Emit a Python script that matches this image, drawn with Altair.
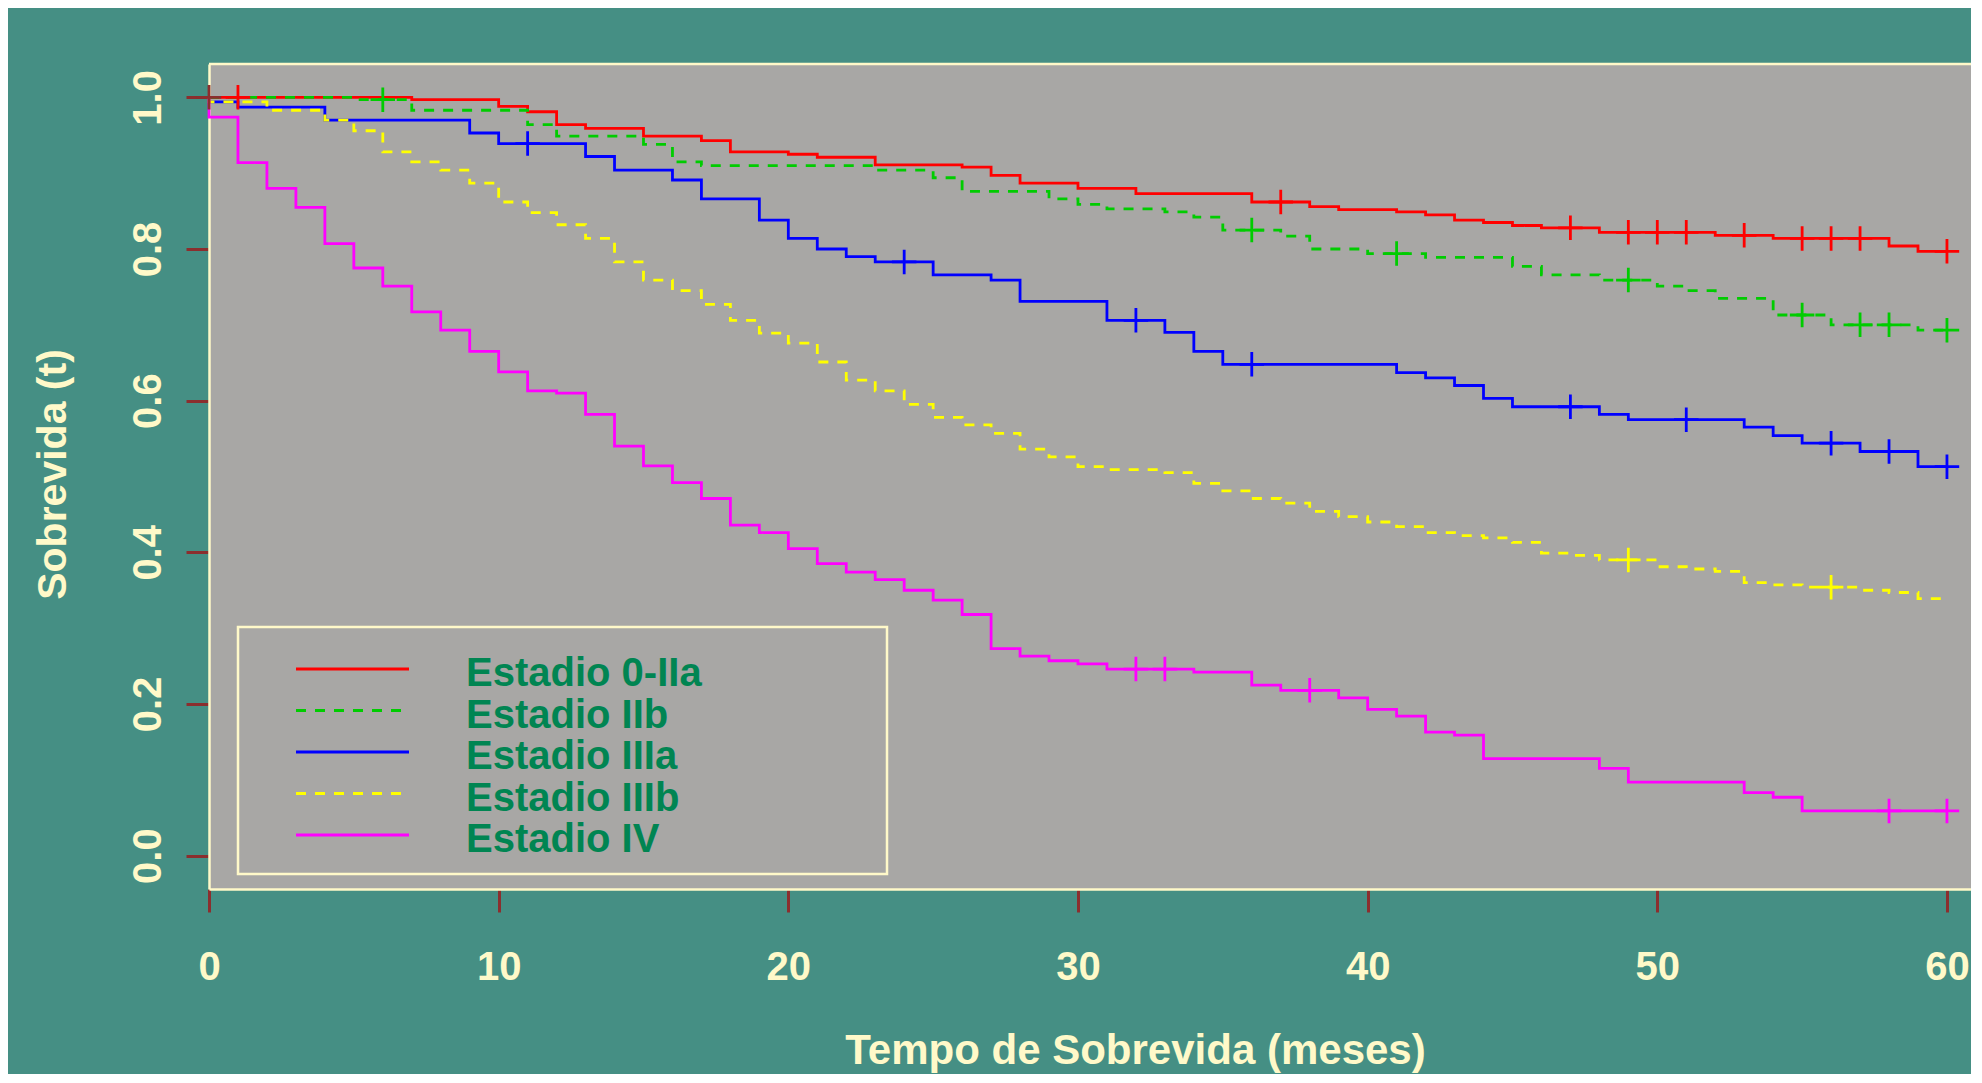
import altair as alt
import pandas as pd

# ---------------- data ----------------
nomes = ["Estadio 0-IIa", "Estadio IIb", "Estadio IIIa", "Estadio IIIb", "Estadio IV"]
cores = ["#FF0000", "#00CC00", "#0000FF", "#FFFF00", "#FF00FF"]
tracos = [[1, 0], [10, 9], [1, 0], [10, 9], [1, 0]]

tempo_0_IIa = [0, 7, 10, 11, 12, 13, 15, 17, 18, 20, 21, 23, 26, 27, 28, 30, 32, 36, 38, 39,
               41, 42, 43, 44, 45, 46, 48, 52, 54, 58, 59, 60]
sobrev_0_IIa = [1.000, 0.997, 0.988, 0.981, 0.964, 0.959, 0.949, 0.943, 0.928, 0.925,
                0.921, 0.911, 0.908, 0.897, 0.887, 0.880, 0.873, 0.862, 0.856, 0.852,
                0.849, 0.845, 0.838, 0.835, 0.831, 0.828, 0.822, 0.818, 0.814, 0.804,
                0.797, 0.797]
censura_0_IIa = [1, 37, 47, 49, 50, 51, 53, 55, 56, 57, 60]

tempo_IIb = [0, 5, 7, 11, 12, 15, 16, 17, 23, 25, 26, 29, 30, 31, 33, 34, 35, 37, 38, 40,
             42, 45, 46, 48, 50, 51, 52, 54, 56, 59, 60]
sobrev_IIb = [1.000, 0.997, 0.983, 0.964, 0.949, 0.938, 0.915, 0.910, 0.904, 0.894,
              0.876, 0.866, 0.859, 0.853, 0.849, 0.842, 0.825, 0.817, 0.800, 0.794,
              0.789, 0.777, 0.766, 0.759, 0.751, 0.745, 0.735, 0.713, 0.700, 0.693, 0.693]
censura_IIb = [6, 36, 41, 49, 55, 57, 58, 60]

tempo_IIIa = [0, 0, 1, 4, 9, 10, 13, 14, 16, 17, 19, 20, 21, 22, 23, 25, 27, 28, 31, 33,
              34, 35, 41, 42, 43, 44, 45, 48, 49, 53, 54, 55, 57, 59, 60]
sobrev_IIIa = [1.000, 0.994, 0.987, 0.970, 0.953, 0.939, 0.922, 0.904, 0.891, 0.866,
               0.838, 0.814, 0.800, 0.790, 0.783, 0.766, 0.759, 0.731, 0.706, 0.690,
               0.665, 0.648, 0.637, 0.630, 0.620, 0.603, 0.592, 0.582, 0.575, 0.565,
               0.554, 0.544, 0.533, 0.513, 0.513]
censura_IIIa = [11, 24, 32, 36, 47, 51, 56, 58, 60]

tempo_IIIb = [0, 0, 2, 4, 5, 6, 7, 8, 9, 10, 11, 12, 13, 14, 15, 16, 17, 18, 19, 20,
              21, 22, 23, 24, 25, 26, 27, 28, 29, 30, 31, 33, 34, 35, 36, 37, 38, 39, 40, 41,
              42, 43, 44, 45, 46, 47, 48, 50, 51, 52, 53, 54, 55, 57, 58, 59, 60]
sobrev_IIIb = [1.000, 0.994, 0.983, 0.970, 0.956, 0.928, 0.915, 0.904, 0.887, 0.862,
               0.848, 0.832, 0.814, 0.783, 0.759, 0.745, 0.727, 0.706, 0.689, 0.676,
               0.651, 0.627, 0.613, 0.595, 0.578, 0.568, 0.557, 0.536, 0.526, 0.513,
               0.509, 0.505, 0.491, 0.481, 0.471, 0.465, 0.454, 0.447, 0.440, 0.434,
               0.426, 0.422, 0.419, 0.413, 0.399, 0.396, 0.390, 0.381, 0.378, 0.375,
               0.360, 0.357, 0.354, 0.350, 0.347, 0.339, 0.339]
censura_IIIb = [49, 56]

tempo_IV = [0, 0, 1, 2, 3, 4, 5, 6, 7, 8, 9, 10, 11, 12, 13, 14, 15, 16, 17, 18,
            19, 20, 21, 22, 23, 24, 25, 26, 27, 28, 29, 30, 31, 34, 36, 37, 39, 40, 41, 42,
            43, 44, 48, 49, 53, 54, 55, 60]
sobrev_IV = [1.000, 0.974, 0.914, 0.880, 0.855, 0.807, 0.775, 0.751, 0.717, 0.693,
             0.665, 0.638, 0.613, 0.610, 0.582, 0.540, 0.514, 0.492, 0.471, 0.436,
             0.426, 0.405, 0.385, 0.374, 0.364, 0.350, 0.337, 0.318, 0.273, 0.263,
             0.257, 0.253, 0.246, 0.242, 0.225, 0.218, 0.208, 0.193, 0.184, 0.163,
             0.159, 0.128, 0.115, 0.097, 0.083, 0.077, 0.059, 0.059]
censura_IV = [32, 33, 38, 58, 60]

marca_origem_tempo = [0]
marca_origem_sobrev = [1.0]

ticks_x = [0, 10, 20, 30, 40, 50, 60]
ticks_y = [0.0, 0.2, 0.4, 0.6, 0.8, 1.0]

# ---------------- styling ----------------
FUNDO = "#458F84"
PAINEL = "#A8A7A5"
CREME = "#FFF9C9"
TICK = "#8B2E2E"
VERDE_TXT = "#008552"
FONTE = "Liberation Sans"
LW = 2.8

series = [
    (nomes[0], tempo_0_IIa, sobrev_0_IIa, censura_0_IIa),
    (nomes[1], tempo_IIb, sobrev_IIb, censura_IIb),
    (nomes[2], tempo_IIIa, sobrev_IIIa, censura_IIIa),
    (nomes[3], tempo_IIIb, sobrev_IIIb, censura_IIIb),
    (nomes[4], tempo_IV, sobrev_IV, censura_IV),
]


def valor_em(tempos, valores, t):
    v = valores[0]
    for tt, vv in zip(tempos, valores):
        if tt <= t:
            v = vv
    return v


linhas = []
cens = []
for nome, tempos, valores, censuras in series:
    for i, (t, v) in enumerate(zip(tempos, valores)):
        linhas.append({"estadio": nome, "tempo": t, "sobrevida": v, "ordem": i})
    for t in censuras:
        cens.append({"estadio": nome, "tempo": t, "sobrevida": valor_em(tempos, valores, t)})

df_linhas = pd.DataFrame(linhas)
df_cens = pd.DataFrame(cens)
df_origem = pd.DataFrame({"tempo": marca_origem_tempo, "sobrevida": marca_origem_sobrev})
df_leg = pd.DataFrame({"estadio": nomes, "posicao": list(range(len(nomes)))})
df_um = pd.DataFrame({"k": [0]})

W = 1762
H = 825
XMAX = 60.83
YMIN, YMAX = -0.044, 1.044

x_scale = alt.Scale(domain=[0, XMAX], nice=False, zero=False)
y_scale = alt.Scale(domain=[YMIN, YMAX], nice=False, zero=False)

x_axis = alt.Axis(
    values=ticks_x, format="d", grid=False, labelFlush=False, labelOverlap=False,
    domainColor=CREME, domainWidth=2.5,
    tickColor=TICK, tickWidth=3, tickSize=23,
    labelFont=FONTE, labelFontSize=40, labelFontWeight="bold", labelColor=CREME,
    labelBaseline="alphabetic", labelPadding=67,
    title="Tempo de Sobrevida (meses)", titleFont=FONTE, titleFontSize=42,
    titleFontWeight="bold", titleColor=CREME, titleX=926, titleY=174,
    titleAlign="center", titleBaseline="alphabetic",
)
y_axis = alt.Axis(
    values=ticks_y, format=".1f", grid=False, labelFlush=False, labelOverlap=False,
    domainColor=CREME, domainWidth=2.5,
    tickColor=TICK, tickWidth=3, tickSize=23,
    labelFont=FONTE, labelFontSize=40, labelFontWeight="bold", labelColor=CREME,
    labelAngle=270, labelAlign="center", labelBaseline="alphabetic", labelPadding=26,
    title="Sobrevida (t)", titleFont=FONTE, titleFontSize=41, titleFontWeight="bold",
    titleColor=CREME, titleAngle=270, titleX=-144, titleY=410,
    titleAlign="center", titleBaseline="alphabetic",
)

X = alt.X("tempo:Q", scale=x_scale, axis=x_axis)
Y = alt.Y("sobrevida:Q", scale=y_scale, axis=y_axis)

cor = alt.Color("estadio:N", scale=alt.Scale(domain=nomes, range=cores), legend=None)
traco = alt.StrokeDash("estadio:N", scale=alt.Scale(domain=nomes, range=tracos), legend=None)

curvas = alt.Chart(df_linhas).mark_line(interpolate="step-after", strokeWidth=LW).encode(
    x=X, y=Y, color=cor, strokeDash=traco, order=alt.Order("ordem:Q")
)

CRUZ = "M-1,0L1,0M0,-1L0,1"
censuras_ch = alt.Chart(df_cens).mark_point(
    shape=CRUZ, size=600, filled=False, strokeWidth=LW, opacity=1
).encode(x=X, y=Y, color=cor)

origem = alt.Chart(df_origem).mark_point(
    shape=CRUZ, size=600, filled=False, strokeWidth=LW, opacity=1, color=TICK
).encode(x=X, y=Y)

topo = alt.Chart(df_um).mark_rule(color=CREME, strokeWidth=2.5).encode(
    x=alt.X(datum=0, scale=x_scale, axis=x_axis),
    x2=alt.X2(datum=XMAX),
    y=alt.Y(datum=YMAX, scale=y_scale, axis=y_axis),
)

principal = alt.layer(curvas, censuras_ch, origem, topo)

# ---------------- legend (drawn inside the plot, like R's legend()) ----------------
leg_y = alt.Y("posicao:Q", scale=alt.Scale(domain=[0, 4], range=[605, 771]), axis=None)

caixa = alt.Chart(df_um).mark_rect(fill="transparent", stroke=CREME, strokeWidth=2.5).encode(
    x=alt.value(29), x2=alt.value(678), y=alt.value(563), y2=alt.value(810)
)
leg_linhas = alt.Chart(df_leg).mark_rule(strokeWidth=LW).encode(
    x=alt.value(87), x2=alt.value(200), y=leg_y, color=cor, strokeDash=traco
)
leg_texto = alt.Chart(df_leg).mark_text(
    align="left", baseline="alphabetic", dy=17, font=FONTE, fontSize=40,
    fontWeight="bold", color=VERDE_TXT
).encode(x=alt.value(257), y=leg_y, text="estadio:N")

legenda = alt.layer(caixa, leg_linhas, leg_texto)

chart = (
    alt.layer(principal, legenda)
    .resolve_scale(y="independent")
    .properties(
        width=W, height=H,
        autosize=alt.AutoSizeParams(type="none"),
        padding={"left": 201, "top": 56, "right": 0, "bottom": 185},
    )
    .configure(background=FUNDO)
    .configure_view(fill=PAINEL, stroke="transparent")
)

chart.save("out.html", embed_options={"renderer": "svg", "actions": False})
